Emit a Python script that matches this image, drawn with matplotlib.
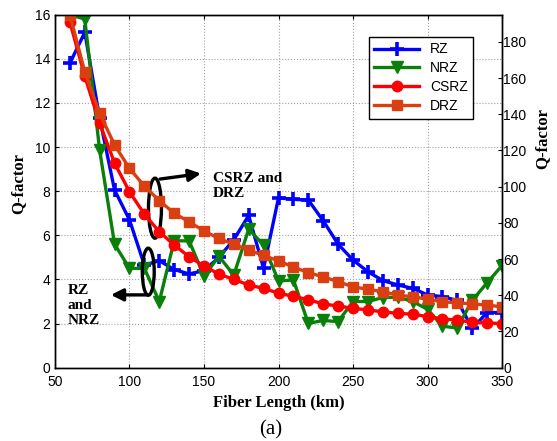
import numpy as np
import matplotlib
matplotlib.use('Agg')
import matplotlib.pyplot as plt
from matplotlib.patches import Ellipse

# fiber lengths (km)
length = list(range(60, 351, 10))

# left axis: RZ and NRZ
rz = [13.8, 15.2, 11.3, 8.05, 6.7, 4.65, 4.85, 4.45, 4.25, 4.4, 5.0, 5.8, 6.9, 4.5, 7.7,
      7.63, 7.6, 6.66, 5.6, 4.88, 4.35, 3.95, 3.75, 3.6, 3.3, 3.22, 3.05, 1.78, 2.5, 2.5]
nrz = [16.0, 15.8, 9.85, 5.6, 4.5, 4.5, 3.0, 5.75, 5.75, 4.15, 5.05, 4.2, 6.28, 5.56, 3.93,
       3.98, 2.01, 2.14, 2.09, 3.0, 3.0, 3.18, 3.2, 3.0, 2.65, 1.88, 1.8, 3.05, 3.85, 4.63]

# right axis: CSRZ and DRZ
csrz = [191, 161, 135, 113, 97.2, 84.8, 75.1, 67.8, 61.3, 56.2, 51.7, 48.8, 45.7, 43.8, 41.2,
        39.4, 37.6, 35.2, 34.1, 32.8, 31.9, 30.9, 30.0, 29.6, 28.2, 27.0, 26.3, 25.1, 24.8, 24.3]
drz = [194.8, 163.4, 140.5, 123, 110.1, 100.3, 92.3, 85.3, 80.6, 75.5, 71.4, 68.2, 65, 62,
       59, 55.6, 52.5, 50.2, 47.5, 44.7, 43.3, 42, 40.1, 39.2, 37.8, 36.4, 35.9, 35.2, 34.6, 33.6]

plt.rcParams['font.family'] = ['Liberation Sans', 'DejaVu Sans']
serif = ['Liberation Serif', 'DejaVu Serif']

fig = plt.figure(figsize=(5.57, 4.41), dpi=100)
ax1 = fig.add_axes([0.0987, 0.1662, 0.8026, 0.8005])
ax2 = ax1.twinx()

lw = 2.4
l1, = ax1.plot(length, rz, color='#0000FF', lw=lw, marker='+', ms=10, mew=2.6, label='RZ')
l2, = ax1.plot(length, nrz, color='#0A800A', lw=lw, marker='v', ms=9, label='NRZ')
l3, = ax2.plot(length, csrz, color='#FF0000', lw=lw, marker='o', ms=7.5, label='CSRZ')
l4, = ax2.plot(length, drz, color='#DA3F12', lw=lw, marker='s', ms=7.5, label='DRZ')

ax1.set_xlim(50, 350)
ax1.set_ylim(0, 16)
ax2.set_ylim(0, 195)
ax1.set_xticks(range(50, 351, 50))
ax1.set_yticks(range(0, 17, 2))
ax2.set_yticks(range(0, 181, 20))

ax1.grid(True, color='#a0a0a0', linestyle=':', linewidth=0.8)
ax1.tick_params(direction='in', labelsize=10, top=True, length=3)
ax1.tick_params(axis='x', pad=5)
ax2.tick_params(direction='in', labelsize=10, length=3, pad=1)
for ax in (ax1, ax2):
    for s in ax.spines.values():
        s.set_linewidth(1.0)

ax1.set_ylabel('Q-factor', family=serif, fontweight='bold', fontsize=12)
ax1.yaxis.set_label_coords(-0.064, 0.523)
ax2.set_ylabel('Q-factor', family=serif, fontweight='bold', fontsize=12, rotation=90)
ax2.yaxis.set_label_coords(1.072, 0.65)

fig.text(278.5 / 557, 1 - 403 / 441, 'Fiber Length (km)', family=serif, fontweight='bold',
         fontsize=12, ha='center', va='center')
fig.text(271 / 557, 1 - 430 / 441, '(a)', family=serif, fontsize=15, ha='center', va='center')

# annotations (drawn in left-axis data units, on top of everything)
tr = ax1.transData
ax2.add_patch(Ellipse((117.1, 7.23), 8.7, 2.72, transform=tr, fill=False, ec='black', lw=2.4))
ax2.add_patch(Ellipse((112.6, 4.35), 8.0, 2.13, transform=tr, fill=False, ec='black', lw=2.4))
ax2.annotate('', xy=(148, 8.8), xytext=(120.5, 8.55), xycoords=tr, textcoords=tr,
             arrowprops=dict(arrowstyle='-|>', color='black', lw=2.4, mutation_scale=18,
                             shrinkA=0, shrinkB=0))
ax2.annotate('', xy=(87.5, 3.3), xytext=(112, 3.3), xycoords=tr, textcoords=tr,
             arrowprops=dict(arrowstyle='-|>', color='black', lw=2.4, mutation_scale=18,
                             shrinkA=0, shrinkB=0))
ax2.text(156, 8.23, 'CSRZ and\nDRZ', transform=tr, family=serif, fontweight='bold',
         fontsize=11, ha='left', va='center', linespacing=1.2)
ax2.text(58.7, 2.84, 'RZ\nand\nNRZ', transform=tr, family=serif, fontweight='bold',
         fontsize=11, ha='left', va='center', linespacing=1.2)

leg = ax2.legend(handles=[l1, l2, l3, l4], loc='upper left', bbox_to_anchor=(0.702, 0.937),
                 borderaxespad=0, fancybox=False, edgecolor='black', framealpha=1,
                 fontsize=10, handlelength=3.2, labelspacing=0.35, borderpad=0.4)
leg.get_frame().set_linewidth(1.0)

fig.savefig('out.png', dpi=100)
